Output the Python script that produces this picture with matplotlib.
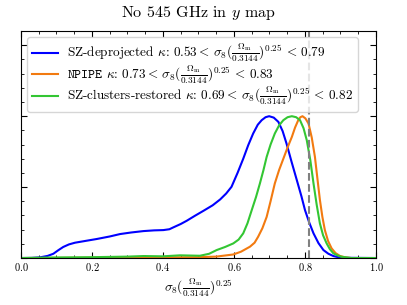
import matplotlib
matplotlib.use("Agg")
import matplotlib.pyplot as plt
from matplotlib.ticker import MultipleLocator, NullFormatter

plt.rcParams['mathtext.fontset'] = 'cm'
plt.rcParams['font.family'] = 'serif'
plt.rcParams['font.serif'] = ['cmr10', 'DejaVu Serif']
plt.rcParams['axes.formatter.use_mathtext'] = True
plt.rcParams['axes.unicode_minus'] = False

# Data (peak-normalised posteriors)
blue_x = [0.0, 0.03, 0.054, 0.075, 0.091, 0.105, 0.119, 0.135, 0.152, 0.18, 0.213, 0.25, 0.279, 0.31,
          0.345, 0.375, 0.401, 0.418, 0.429, 0.45, 0.467, 0.49, 0.514, 0.54, 0.561, 0.578, 0.593,
          0.61, 0.626, 0.64, 0.654, 0.667, 0.678, 0.689, 0.699, 0.712, 0.725, 0.737, 0.748, 0.762,
          0.777, 0.79, 0.80, 0.812, 0.824, 0.838, 0.852, 0.866, 0.88, 0.90, 1.0]
blue_y = [0.0, 0.001, 0.005, 0.015, 0.03, 0.055, 0.078, 0.096, 0.108, 0.12, 0.134, 0.152, 0.169, 0.18,
          0.19, 0.195, 0.197, 0.203, 0.216, 0.24, 0.263, 0.298, 0.333, 0.372, 0.413, 0.455, 0.502,
          0.60, 0.70, 0.795, 0.878, 0.94, 0.972, 0.993, 1.0, 0.99, 0.96, 0.895, 0.807, 0.68,
          0.549, 0.435, 0.338, 0.25, 0.174, 0.105, 0.056, 0.03, 0.014, 0.002, 0.0]

orange_x = [0.0, 0.3, 0.5, 0.55, 0.598, 0.62, 0.645, 0.658, 0.668, 0.68, 0.692, 0.703, 0.715,
            0.727, 0.739, 0.751, 0.763, 0.772, 0.781, 0.787, 0.793, 0.801, 0.81, 0.819, 0.828,
            0.835, 0.842, 0.849, 0.856, 0.865, 0.875, 0.886, 0.899, 0.915, 0.93, 1.0]
orange_y = [0.0, 0.003, 0.006, 0.01, 0.025, 0.045, 0.08, 0.108, 0.15, 0.21, 0.29, 0.40, 0.526,
            0.62, 0.70, 0.78, 0.854, 0.92, 0.972, 0.993, 1.0, 0.985, 0.948, 0.85, 0.713,
            0.56, 0.41, 0.29, 0.197, 0.12, 0.068, 0.035, 0.014, 0.004, 0.0, 0.0]

green_x = [0.0, 0.1, 0.2, 0.3, 0.345, 0.4, 0.448, 0.504, 0.53, 0.551, 0.575, 0.598,
           0.613, 0.626, 0.638, 0.65, 0.662, 0.673, 0.683, 0.692, 0.703, 0.715, 0.727, 0.739,
           0.751, 0.763, 0.775, 0.786, 0.796, 0.805, 0.815, 0.824, 0.833, 0.842, 0.851,
           0.861, 0.87, 0.88, 0.892, 0.903, 0.93, 1.0]
green_y = [0.0, 0.004, 0.006, 0.01, 0.014, 0.012, 0.019, 0.016, 0.03, 0.056, 0.078, 0.103,
           0.13, 0.174, 0.245, 0.338, 0.43, 0.526, 0.62, 0.713, 0.80, 0.878, 0.935, 0.972,
           0.993, 1.0, 0.993, 0.972, 0.915, 0.831, 0.69, 0.526, 0.375, 0.244, 0.16,
           0.103, 0.063, 0.033, 0.018, 0.009, 0.0, 0.0]

labels = [
    r'SZ-deprojected $\kappa$: 0.53$<\,\sigma_8(\frac{\Omega_{\rm m}}{0.3144})^{0.25}\,<\,0.79$',
    r'$\mathtt{NPIPE}$ $\kappa$: 0.73$<\,\sigma_8(\frac{\Omega_{\rm m}}{0.3144})^{0.25}\,<\,0.83$',
    r'SZ-clusters-restored $\kappa$: 0.69$<\,\sigma_8(\frac{\Omega_{\rm m}}{0.3144})^{0.25}\,<\,0.82$',
]
ref_value = 0.811

fig = plt.figure(figsize=(4.07, 3.05), dpi=100)
ax = fig.add_axes([0.0516, 0.154, 0.8722, 0.744])

ax.plot(blue_x, blue_y, color='#0000ff', lw=1.5, label=labels[0])
ax.plot(orange_x, orange_y, color='#f27a10', lw=1.5, label=labels[1])
ax.plot(green_x, green_y, color='#33c633', lw=1.5, label=labels[2])
ax.axvline(ref_value, color='gray', ls='--', lw=1.5)

ax.set_xlim(0, 1)
ax.set_ylim(0, 1.6)
ax.xaxis.set_major_locator(MultipleLocator(0.2))
ax.xaxis.set_minor_locator(MultipleLocator(0.05))
ax.yaxis.set_major_locator(MultipleLocator(0.5))
ax.yaxis.set_minor_locator(MultipleLocator(0.1))
ax.yaxis.set_major_formatter(NullFormatter())
ax.tick_params(which='both', direction='in', top=True, right=True, labelsize=7.5, pad=2)
ax.tick_params(which='major', length=4, width=0.8)
ax.tick_params(which='minor', length=2, width=0.6)

ax.set_xlabel(r'$\sigma_8(\frac{\Omega_{\rm m}}{0.3144})^{0.25}$', fontsize=9.5, labelpad=3)
ax.set_title(r'No 545 GHz in $y$ map', fontsize=11.5, pad=10)
ax.legend(loc='upper left', fontsize=9.5, frameon=True, handlelength=2.0,
          borderaxespad=0.45, labelspacing=-0.05, borderpad=0.35, handletextpad=0.7)

fig.savefig('out.png', dpi=100)
